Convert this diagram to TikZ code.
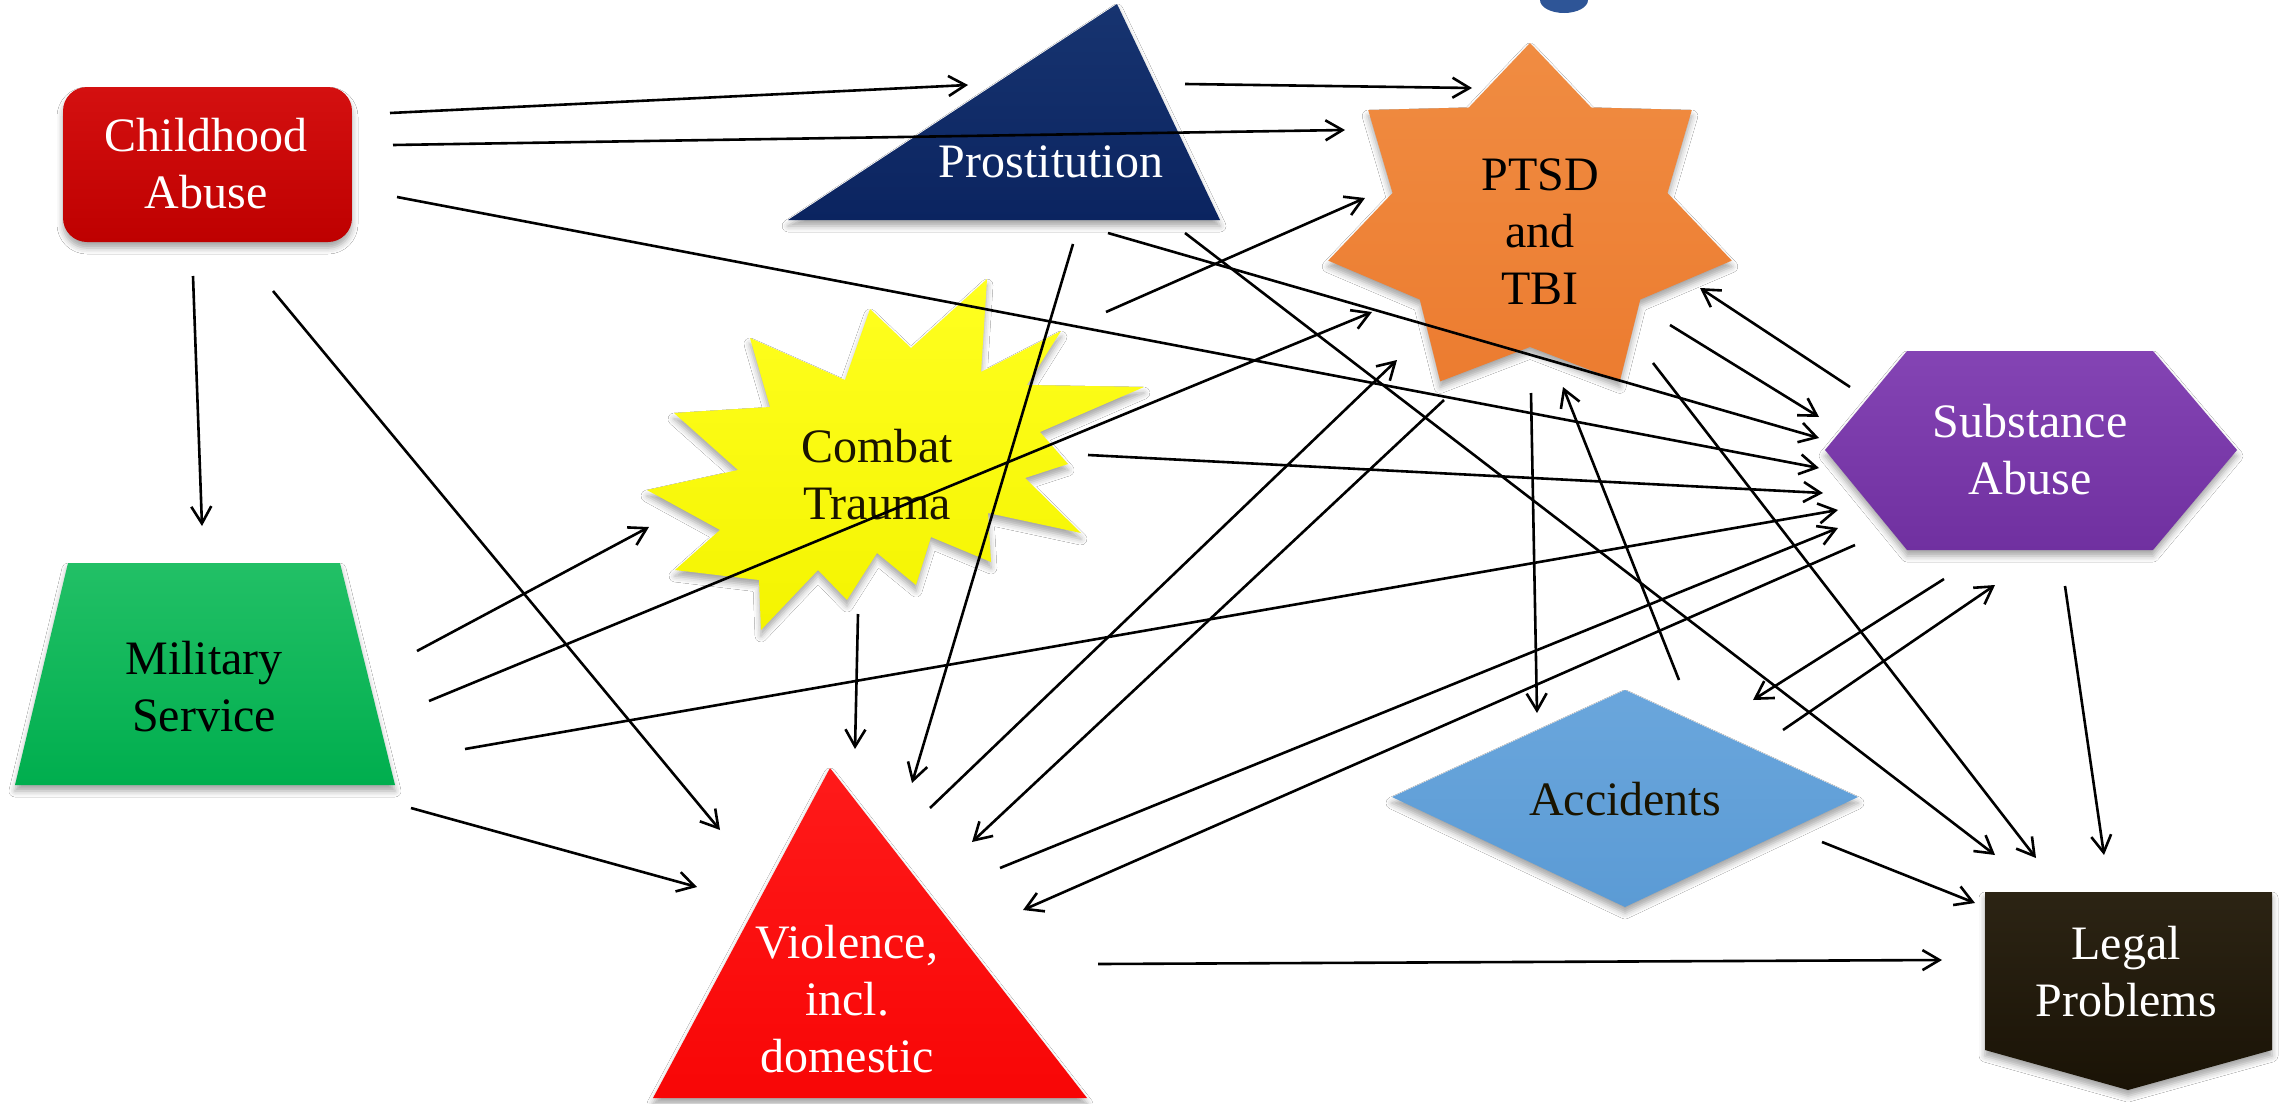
\documentclass[tikz,border=0pt]{standalone}
\usepackage{fontspec}
\setmainfont{Liberation Serif}
\newfontfamily\labelfont{Liberation Serif}
\usetikzlibrary{arrows.meta,shadows.blur}

\definecolor{caRed}{HTML}{BE0000}
\definecolor{caTop}{HTML}{D41010}
\definecolor{prBlue}{HTML}{0B2460}
\definecolor{prTop}{HTML}{173470}
\definecolor{ptOrange}{HTML}{EC7C30}
\definecolor{ptTop}{HTML}{F08C42}
\definecolor{ctYellow}{HTML}{F4F400}
\definecolor{ctTop}{HTML}{FFFF20}
\definecolor{msGreen}{HTML}{00AE4E}
\definecolor{msTop}{HTML}{22C066}
\definecolor{viRed}{HTML}{F80606}
\definecolor{viTop}{HTML}{FF1A1A}
\definecolor{saPurple}{HTML}{7030A0}
\definecolor{saTop}{HTML}{8444B4}
\definecolor{acBlue}{HTML}{5B9BD5}
\definecolor{acTop}{HTML}{6AA6DC}
\definecolor{lpDark}{HTML}{1A1306}
\definecolor{lpTop}{HTML}{2C2414}
\definecolor{titleBlue}{HTML}{2E5597}
\definecolor{darkText}{HTML}{1A1400}

\tikzset{
  boxshadow/.style={blur shadow={shadow xshift=0pt,shadow yshift=-3pt,
      shadow blur radius=3pt,shadow opacity=35}},
  lbl/.style={inner sep=0pt,align=center,font=\labelfont\fontsize{24}{28.5}\selectfont},
  arr/.style={-{Straight Barb[length=8.5pt,width=10pt]},line width=1.3pt,black},
}

\begin{document}
\begin{tikzpicture}[x=0.5pt,y=-0.5pt]
\useasboundingbox (0,0) rectangle (2280,1103);
\fill[white] (0,0) rectangle (2280,1103);

% descender of a heading letter cut by the top edge
\fill[titleBlue] (1540,0) arc[start angle=180,end angle=0,x radius=24,y radius=13] -- cycle;

% ---- shapes ----
% Childhood Abuse
\path[boxshadow,top color=caTop,bottom color=caRed,rounded corners=12pt]
  (63,87) rectangle (352,242);
% Prostitution
\path[boxshadow,top color=prTop,bottom color=prBlue]
  (1117,4) -- (1220,220) -- (788,220) -- cycle;
% PTSD and TBI: seven-pointed star
\begin{scope}[shift={(1530,221)}]
\path[boxshadow,top color=ptTop,bottom color=ptOrange]
  (-90:207 and 178)
  \foreach \i in {0,...,6} {
    -- ({-90+(\i+0.5)*51.4286}:141 and 126)
    -- ({-90+(\i+1)*51.4286}:207 and 178)
  } -- cycle;
\end{scope}
% Combat Trauma: explosion
\path[boxshadow,top color=ctTop,bottom color=ctYellow]
  (750,338) -- (845,380) -- (870,309) -- (911,348) -- (987,279) -- (981,372)
  -- (1061,331) -- (1027,385) -- (1144,387) -- (1040,432) -- (1068,464)
  -- (1025,478) -- (1081,533) -- (988,513) -- (991,562) -- (931,537)
  -- (916,585) -- (877,553) -- (847,600) -- (818,570) -- (761,630)
  -- (759,580) -- (675,570) -- (720,530) -- (647,490) -- (738,470)
  -- (674,413) -- (770,407) -- cycle;
% Military Service
\path[boxshadow,top color=msTop,bottom color=msGreen]
  (68,563) -- (340,563) -- (395,785) -- (15,785) -- cycle;
% Violence
\path[boxshadow,top color=viTop,bottom color=viRed]
  (830,768) -- (1087,1098) -- (653,1098) -- cycle;
% Substance Abuse
\path[boxshadow,top color=saTop,bottom color=saPurple]
  (1825,450) -- (1907,351) -- (2153,351) -- (2237,450) -- (2153,550)
  -- (1907,550) -- cycle;
% Accidents
\path[boxshadow,top color=acTop,bottom color=acBlue]
  (1625,690) -- (1858,797) -- (1625,907) -- (1392,797) -- cycle;
% Legal Problems
\path[boxshadow,top color=lpTop,bottom color=lpDark]
  (1985,892) -- (2272,892) -- (2272,1050) -- (2128,1090) -- (1985,1050) -- cycle;

% ---- labels ----
\node[lbl,text=white]    (ca)   at (206,169)  {Childhood\strut\\Abuse\strut};
\node[lbl,text=white]    (pr)   at (1051,166) {Prostitution\strut};
\node[lbl,text=black]    (ptsd) at (1540,236) {PTSD\strut\\and\strut\\TBI\strut};
\node[lbl,text=darkText] (ct)   at (877,480)  {Combat\strut\\Trauma\strut};
\node[lbl,text=black]    (ms)   at (204,692)  {Military\strut\\Service\strut};
\node[lbl,text=white]    (vi)   at (847,1004) {Violence,\strut\\incl.\strut\\domestic\strut};
\node[lbl,text=white]    (sa)   at (2030,455) {Substance\strut\\Abuse\strut};
\node[lbl,text=darkText] (acc)  at (1625,804) {Accidents\strut};
\node[lbl,text=white]    (lp)   at (2126,977) {Legal\strut\\Problems\strut};

% ---- connectors ----
% from Childhood Abuse
\draw[arr] ([shift={(184,-56)}]ca.center) -- ([shift={(-83,-81)}]pr.center);
\draw[arr] ([shift={(187,-24)}]ca.center) -- ([shift={(-195,-106)}]ptsd.center);
\draw[arr] ([shift={(191,28)}]ca.center)  -- ([shift={(-211,13)}]sa.center);
\draw[arr] ([shift={(-13,107)}]ca.center) -- ([shift={(-2,-166)}]ms.center);
\draw[arr] ([shift={(67,122)}]ca.center)  -- ([shift={(-127,-174)}]vi.center);
% from Prostitution
\draw[arr] ([shift={(134,-82)}]pr.center) -- ([shift={(-68,-148)}]ptsd.center);
\draw[arr] ([shift={(22,78)}]pr.center)   -- ([shift={(65,-221)}]vi.center);
\draw[arr] ([shift={(57,67)}]pr.center)   -- ([shift={(-211,-17)}]sa.center);
\draw[arr] ([shift={(134,67)}]pr.center)  -- ([shift={(-131,-122)}]lp.center);
% from Combat Trauma
\draw[arr] ([shift={(229,-168)}]ct.center) -- ([shift={(-175,-38)}]ptsd.center);
\draw[arr] ([shift={(211,-25)}]ct.center)  -- ([shift={(-207,38)}]sa.center);
\draw[arr] ([shift={(-19,134)}]ct.center)  -- ([shift={(8,-255)}]vi.center);
% from Military Service
\draw[arr] ([shift={(213,-41)}]ms.center) -- ([shift={(-228,47)}]ct.center);
\draw[arr] ([shift={(225,9)}]ms.center)   -- ([shift={(-168,76)}]ptsd.center);
\draw[arr] ([shift={(261,57)}]ms.center)  -- ([shift={(-192,55)}]sa.center);
\draw[arr] ([shift={(207,116)}]ms.center) -- ([shift={(-150,-117)}]vi.center);
% from Violence
\draw[arr] ([shift={(83,-196)}]vi.center)  -- ([shift={(-143,124)}]ptsd.center);
\draw[arr] ([shift={(153,-136)}]vi.center) -- ([shift={(-192,73)}]sa.center);
\draw[arr] ([shift={(251,-40)}]vi.center)  -- ([shift={(-184,-17)}]lp.center);
% from PTSD and TBI
\draw[arr] ([shift={(-96,164)}]ptsd.center) -- ([shift={(125,-162)}]vi.center);
\draw[arr] ([shift={(-9,157)}]ptsd.center)  -- ([shift={(-88,-91)}]acc.center);
\draw[arr] ([shift={(130,89)}]ptsd.center)  -- ([shift={(-211,-38)}]sa.center);
\draw[arr] ([shift={(113,127)}]ptsd.center) -- ([shift={(-90,-119)}]lp.center);
% from Substance Abuse
\draw[arr] ([shift={(-180,-68)}]sa.center) -- ([shift={(160,52)}]ptsd.center);
\draw[arr] ([shift={(-175,90)}]sa.center)  -- ([shift={(176,-94)}]vi.center);
\draw[arr] ([shift={(-86,124)}]sa.center)  -- ([shift={(128,-104)}]acc.center);
\draw[arr] ([shift={(35,131)}]sa.center)   -- ([shift={(-22,-122)}]lp.center);
% from Accidents
\draw[arr] ([shift={(54,-124)}]acc.center) -- ([shift={(23,151)}]ptsd.center);
\draw[arr] ([shift={(158,-74)}]acc.center) -- ([shift={(-35,130)}]sa.center);
\draw[arr] ([shift={(197,38)}]acc.center)  -- ([shift={(-151,-74)}]lp.center);
\end{tikzpicture}
\end{document}
